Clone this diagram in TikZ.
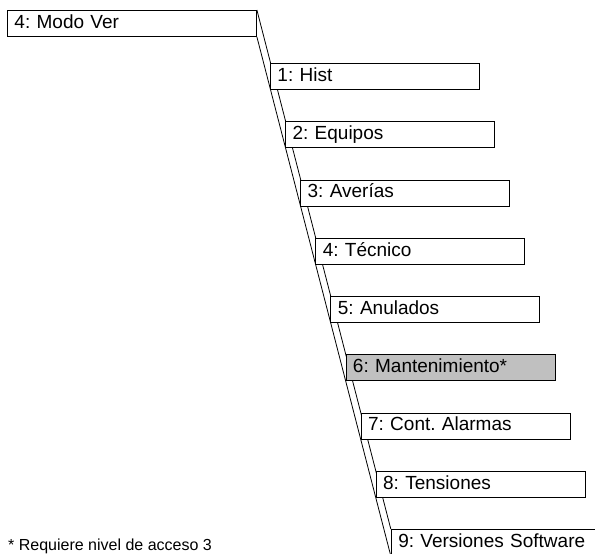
\documentclass[tikz,border=0pt]{standalone}
\usepackage{fontspec}
\setmainfont{Liberation Sans}
\frenchspacing
\usetikzlibrary{backgrounds}
\definecolor{lockedgray}{HTML}{C0C0C0}

\begin{document}
\begin{tikzpicture}[
    x=1pt, y=-1pt,
    item/.style={draw, line width=0.9pt, anchor=north west, minimum height=26pt,
        text width=195pt, inner xsep=7pt, inner ysep=0pt,
        text height=13.8pt, text depth=4pt, font=\fontsize{19}{21}\selectfont},
    free/.style={item, fill=white},
    locked/.style={item, fill=lockedgray},
    trunk/.style={draw, line width=0.8pt},
]
\clip (0,0) rectangle (595,554);

% Main menu entry
\node[free, text width=235pt] (root) at (7,10) {4: Modo Ver};

% Submenu entries (stepping down and right)
\foreach \idx/\lbl/\kind in {
  1/Hist/free,
  2/Equipos/free,
  3/Averías/free,
  4/Técnico/free,
  5/Anulados/free,
  6/Mantenimiento*/locked,
  7/Cont. Alarmas/free,
  8/Tensiones/free,
  9/Versiones Software/free}{
  \node[\kind] (m\idx) at ({270+15.1*(\idx-1)}, {63+58.25*(\idx-1)}) {\idx: \lbl};
}

% Trunk behind the entries
\begin{scope}[on background layer]
  \draw[trunk] (root.north east) -- (m9.north west);
  \draw[trunk] (root.south east) -- (m9.south west);
\end{scope}

% Footnote
\node[font=\fontsize{16}{18}\selectfont, anchor=base west, inner sep=0pt] (note) at (8,550) {* Requiere nivel de acceso 3};

\end{tikzpicture}
\end{document}
